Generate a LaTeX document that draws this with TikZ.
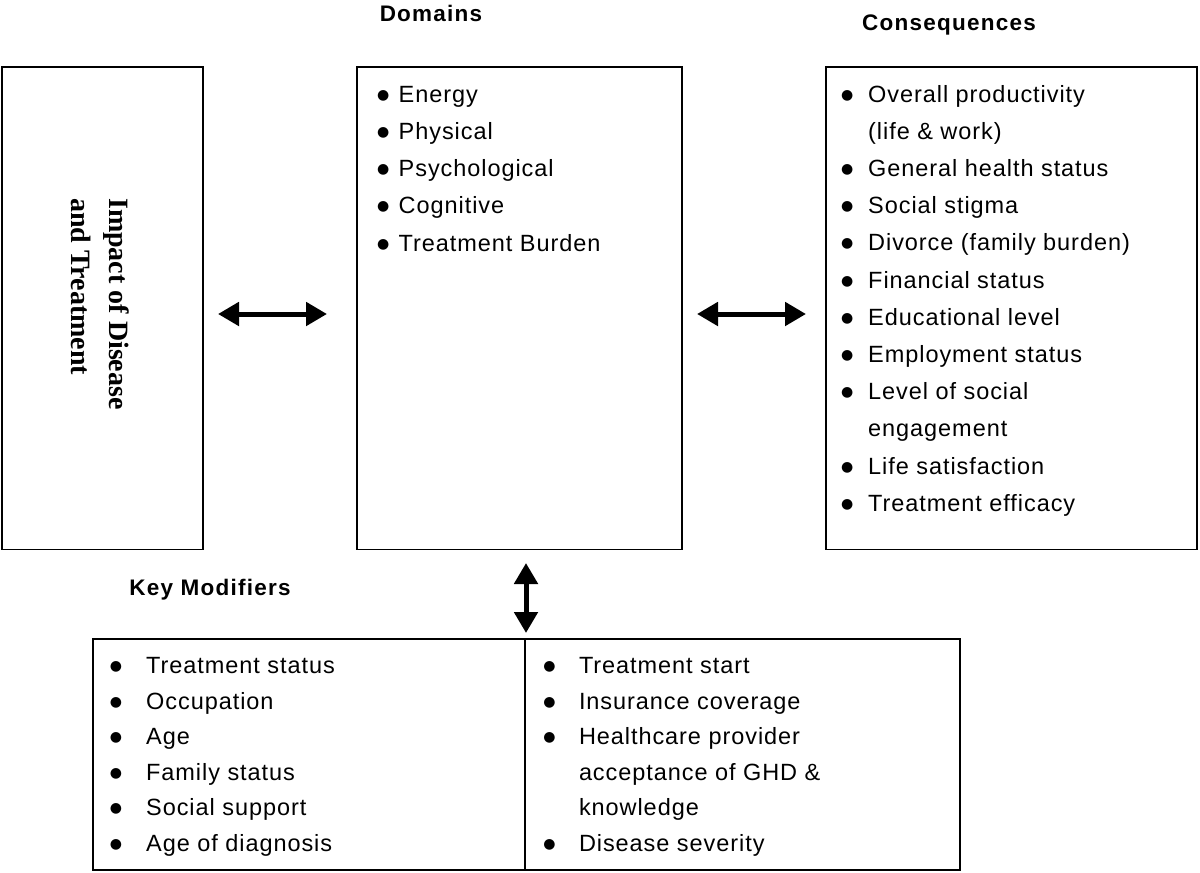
\documentclass[tikz,border=0pt]{standalone}
\usepackage{fontspec}
\setmainfont{Liberation Sans}[LetterSpace=4]
\newfontfamily\titlefont{Liberation Sans}[LetterSpace=5.5]
\newfontfamily\impactfont{Liberation Serif}
\newfontfamily\bulletfont{DejaVu Sans}
\usetikzlibrary{arrows.meta}
\newlength\bw
\newcommand\bu{\makebox[\bw][c]{\raisebox{3pt}{\bulletfont\fontsize{14}{14}\selectfont ●}}}
\tikzset{
  box/.style={draw, line width=1.5pt, inner sep=0pt, outer sep=0pt, anchor=north west},
  title/.style={anchor=base, inner sep=0pt, font=\titlefont\bfseries\fontsize{22.5}{26}\selectfont},
  listtext/.style={anchor=base west, inner sep=0pt},
  biarrow/.style={{Triangle[length=21pt,width=23pt]}-{Triangle[length=21pt,width=23pt]}, line width=5pt},
}
\begin{document}
\begin{tikzpicture}[x=1pt,y=-1pt]
\useasboundingbox[fill=white] (0,0) rectangle (1200,873);
% boxes
\node[box, minimum width=201pt, minimum height=482.5pt] (impact) at (2,67) {};
\node[box, minimum width=325pt, minimum height=482.5pt] (domains) at (357,67) {};
\node[box, minimum width=371pt, minimum height=482.5pt] (conseq) at (826,67) {};
\node[box, minimum width=432pt, minimum height=231pt] (modL) at (93,639) {};
\node[box, minimum width=435pt, minimum height=231pt] (modR) at (525,639) {};
% titles
\node[title] (tdom) at (431,21) {Domains};
\node[title] (tcon) at (949,30) {Consequences};
\node[title] (tkey) at (210,595) {Key Modifiers};
% rotated label
\node[rotate=-90, anchor=west, inner sep=0pt, align=left,
      font=\impactfont\bfseries\fontsize{28}{38}\selectfont] (impacttext) at (100.5,198)
      {Impact of Disease\\and Treatment};
% lists
\node[listtext] (domlist) at (367.5,102) {\fontsize{23.5}{37.3}\selectfont\setlength\bw{31pt}%
  \begin{tabular}[t]{@{}l@{}l@{}}
  \bu & Energy\\
  \bu & Physical\\
  \bu & Psychological\\
  \bu & Cognitive\\
  \bu & Treatment Burden
  \end{tabular}};
\node[listtext] (conlist) at (826,102) {\fontsize{23.5}{37.2}\selectfont\setlength\bw{42pt}%
  \begin{tabular}[t]{@{}l@{}l@{}}
  \bu & Overall productivity\\
      & (life \& work)\\
  \bu & General health status\\
  \bu & Social stigma\\
  \bu & Divorce (family burden)\\
  \bu & Financial status\\
  \bu & Educational level\\
  \bu & Employment status\\
  \bu & Level of social\\
      & engagement\\
  \bu & Life satisfaction\\
  \bu & Treatment efficacy
  \end{tabular}};
\node[listtext] (modLlist) at (85.4,673.5) {\fontsize{23.5}{35.6}\selectfont\setlength\bw{60.6pt}%
  \begin{tabular}[t]{@{}l@{}l@{}}
  \bu & Treatment status\\
  \bu & Occupation\\
  \bu & Age\\
  \bu & Family status\\
  \bu & Social support\\
  \bu & Age of diagnosis
  \end{tabular}};
\node[listtext] (modRlist) at (519.8,673.5) {\fontsize{23.5}{35.6}\selectfont\setlength\bw{59pt}%
  \begin{tabular}[t]{@{}l@{}l@{}}
  \bu & Treatment start\\
  \bu & Insurance coverage\\
  \bu & Healthcare provider\\
      & acceptance of GHD \&\\
      & knowledge\\
  \bu & Disease severity
  \end{tabular}};
% arrows
\coordinate (midy) at (0,314);
\coordinate (vx) at (526,0);
\draw[biarrow, shorten <=15pt, shorten >=30pt] (impact.east |- midy) -- (domains.west |- midy);
\draw[biarrow, shorten <=15pt, shorten >=20pt] (domains.east |- midy) -- (conseq.west |- midy);
\draw[biarrow, shorten <=13.5pt, shorten >=6pt] (domains.south -| vx) -- (modR.north -| vx);
\end{tikzpicture}
\end{document}
